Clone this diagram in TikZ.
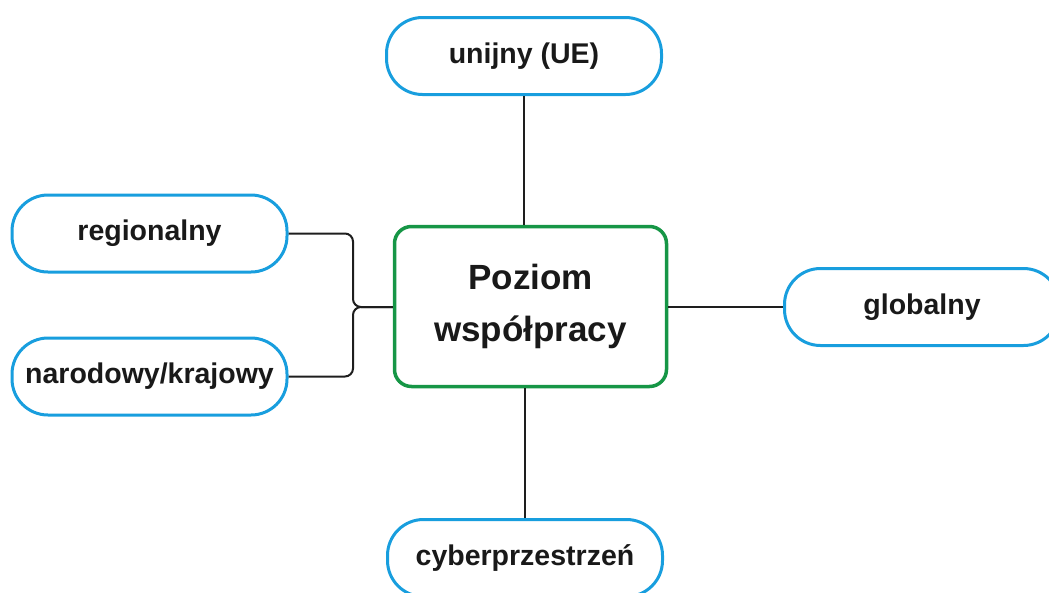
\documentclass[tikz,border=0pt]{standalone}
\usepackage{fontspec}
\setmainfont{Liberation Sans}
\definecolor{pillblue}{RGB}{24,158,222}
\definecolor{hubgreen}{RGB}{22,150,70}
\definecolor{wire}{RGB}{30,30,30}
\tikzset{
  pill/.style={draw=pillblue, line width=3pt, fill=white, rounded corners=36pt,
    minimum width=275pt, minimum height=77pt, inner sep=0pt,
    font=\bfseries\fontsize{28.5pt}{32pt}\selectfont, text=black!90},
  hub/.style={draw=hubgreen, line width=3.5pt, fill=white, rounded corners=17pt,
    minimum width=272pt, minimum height=160pt, inner sep=0pt, align=center,
    font=\bfseries\fontsize{35pt}{52pt}\selectfont, text=black!90},
  wireline/.style={draw=wire, line width=2pt}
}
\begin{document}
\begin{tikzpicture}[x=1pt,y=-1pt]
  \useasboundingbox (0,0) rectangle (1049,592);
  \begin{scope}
    \clip (0,0) rectangle (1049,592);
    % central hub
    \node[hub] (hub) at (530.5,306.5) {Poziom\\współpracy};
    % surrounding levels
    \node[pill] (ue) at (524,56) {unijny (UE)};
    \node[pill] (reg) at (149.5,233.5) {regionalny};
    \node[pill] (nat) at (149.5,376.5) {narodowy/krajowy};
    \node[pill] (glob) at (922,307) {globalny};
    \node[pill] (cyber) at (525,558) {cyberprzestrzeń};
    % brace joining the two left levels
    \coordinate (brace) at (353,307);
    \draw[wireline, rounded corners=8pt] (reg.east) -| (brace) -- (hub.west |- brace);
    \draw[wireline, rounded corners=8pt] (nat.east) -| (brace) -- (hub.west |- brace);
    % straight links
    \draw[wireline] (ue.south) -- (ue.south |- hub.north);
    \draw[wireline] (cyber.north) -- (cyber.north |- hub.south);
    \draw[wireline] (hub.east |- glob.west) -- (glob.west);
  \end{scope}
\end{tikzpicture}
\end{document}
